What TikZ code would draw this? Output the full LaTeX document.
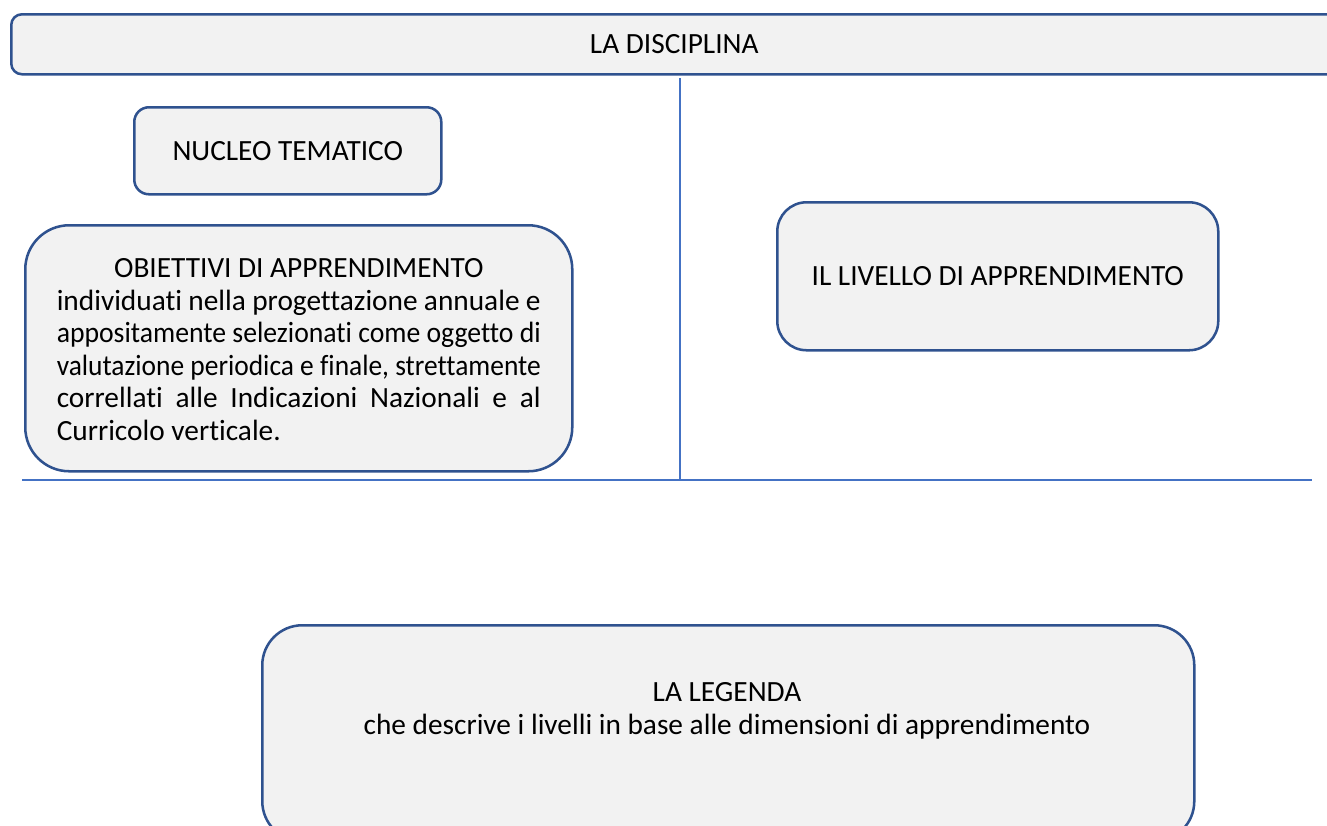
\documentclass[tikz,border=0pt]{standalone}
\usepackage{fontspec}
\usepackage{graphicx}
\setmainfont{Carlito}[Ligatures=NoCommon]
\definecolor{boxborder}{HTML}{2F528F}
\definecolor{boxfill}{HTML}{F2F2F2}
\definecolor{sepline}{HTML}{4472C4}
\newcommand\jline[1]{\makebox[\linewidth][s]{#1}\par}
\newcommand\fitline[1]{\noindent\resizebox{\linewidth}{\height}{#1}\par}
\begin{document}
\begin{tikzpicture}[x=0.75pt,y=-0.75pt,
  box/.style={draw=boxborder,fill=boxfill,line width=1.9pt,inner sep=0pt,anchor=north west,
    font=\fontsize{22pt}{24.4pt}\selectfont},
  txt/.style={inner sep=0pt,align=center,font=\fontsize{22pt}{24.8pt}\selectfont},
  sep/.style={draw=sepline,line width=0.9pt}]
\useasboundingbox (0,0) rectangle (1327,825);
\clip (0,0) rectangle (1327,825);
% top box
\node[box,rounded corners=8pt,minimum width=1330*0.75pt,minimum height=60*0.75pt] (disc) at (10,13) {\hspace*{-3pt}\raisebox{-3pt}{LA DISCIPLINA}};
% separators
\coordinate (vtop) at (680,78);
\coordinate (vbot) at (680,480);
\coordinate (hl) at (22,480);
\coordinate (hr) at (1312,480);
\draw[sep] (vtop) -- (vbot);
\draw[sep] (hl) -- (hr);
% nucleo
\node[box,rounded corners=11pt,minimum width=307*0.75pt,minimum height=87*0.75pt] (nucleo) at (133,106) {\raisebox{-4pt}{NUCLEO TEMATICO}};
% obiettivi
\node[box,rounded corners=33pt,minimum width=547*0.75pt,minimum height=246*0.75pt] (obiet) at (24,224) {%
\begin{minipage}{363pt}
\fontsize{22pt}{24.4pt}\selectfont
\vspace*{2pt}
\makebox[\linewidth][c]{OBIETTIVI DI APPRENDIMENTO}\par
\jline{individuati nella progettazione annuale e}
\fitline{appositamente selezionati come oggetto di}
\fitline{valutazione periodica e finale, strettamente}
\jline{correllati alle Indicazioni Nazionali e al}
\noindent Curricolo verticale.
\end{minipage}};
% livello
\node[box,rounded corners=22pt,minimum width=441*0.75pt,minimum height=148*0.75pt] (livello) at (776,201) {\raisebox{-4pt}{IL LIVELLO DI APPRENDIMENTO}};
% legenda
\node[box,rounded corners=30pt,minimum width=932*0.75pt,minimum height=216*0.75pt] (legenda) at (261,624) {};
\node[txt] (legtxt) at (727,711) {LA LEGENDA\\che descrive i livelli in base alle dimensioni di apprendimento};
\end{tikzpicture}
\end{document}
